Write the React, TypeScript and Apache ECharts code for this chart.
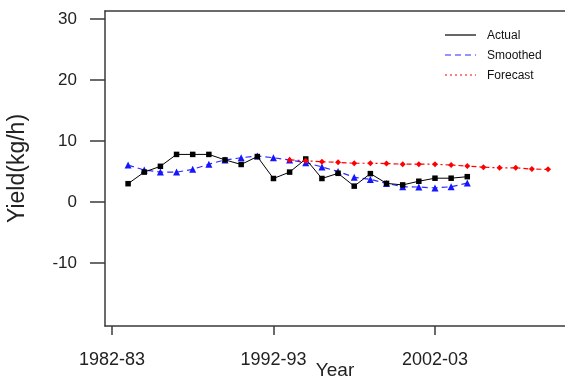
import React, { useEffect, useRef } from "react";
import * as echarts from "echarts";

const actualYears = [1983, 1984, 1985, 1986, 1987, 1988, 1989, 1990, 1991, 1992, 1993, 1994, 1995, 1996, 1997, 1998, 1999, 2000, 2001, 2002, 2003, 2004];
const actualValues = [3.0, 4.9, 5.85, 7.8, 7.8, 7.8, 6.9, 6.15, 7.45, 3.85, 4.9, 7.05, 3.85, 4.7, 2.6, 4.65, 3.05, 2.8, 3.4, 3.9, 3.9, 4.15];

const smoothedYears = [1983, 1984, 1985, 1986, 1987, 1988, 1989, 1990, 1991, 1992, 1993, 1994, 1995, 1996, 1997, 1998, 1999, 2000, 2001, 2002, 2003, 2004];
const smoothedValues = [6.05, 5.25, 4.9, 4.9, 5.35, 6.2, 6.9, 7.25, 7.55, 7.25, 6.9, 6.45, 5.75, 5.0, 4.05, 3.7, 3.05, 2.5, 2.45, 2.3, 2.5, 3.1];

const forecastYears = [1993, 1994, 1995, 1996, 1997, 1998, 1999, 2000, 2001, 2002, 2003, 2004, 2005, 2006, 2007, 2008, 2009];
const forecastValues = [6.9, 6.75, 6.6, 6.5, 6.35, 6.35, 6.3, 6.2, 6.2, 6.2, 6.05, 5.9, 5.7, 5.6, 5.6, 5.4, 5.35];

const xTickYears = [1982, 1992, 2002];
const xTickLabels = ["1982-83", "1992-93", "2002-03"];
const yTickValues = [-10, 0, 10, 20, 30];

const legendNames = ["Actual", "Smoothed", "Forecast"];

const FONT = "'Liberation Sans', Arial, sans-serif";
const FRAME = "#3a3a3a";

export default function App() {
  const ref = useRef<HTMLDivElement>(null);
  useEffect(() => {
    if (!ref.current) return;
    const chart = echarts.init(ref.current, null, { renderer: "svg" });
    const pairs = (xs: number[], ys: number[]) => xs.map((x, i) => [x, ys[i]]);
    const legendStyles = [
      { color: "#000000", dash: null as any },
      { color: "#2a2aff", dash: [6, 4] },
      { color: "#ff0000", dash: [2, 3] },
    ];
    chart.setOption({
      animation: false,
      grid: {
        left: 105,
        top: 11,
        right: 0,
        height: 315,
        show: false,
        containLabel: false,
        outerBoundsMode: "none",
      },
      xAxis: [
        {
          type: "value",
          position: "bottom",
          min: 1981.57,
          max: 2010.05,
          axisLine: { show: true, onZero: false, lineStyle: { color: FRAME, width: 1.5 } },
          splitLine: { show: false },
          axisTick: { show: true, length: 9, customValues: xTickYears, lineStyle: { color: FRAME, width: 1.5 } },
          axisLabel: {
            customValues: xTickYears,
            margin: 24,
            fontFamily: FONT,
            fontSize: 18,
            color: "#222",
            formatter: (v: number) => {
              const i = xTickYears.indexOf(Math.round(v));
              return i >= 0 ? xTickLabels[i] : "";
            },
          },
          name: "Year",
          nameLocation: "middle",
          nameGap: 34,
          nameMoveOverlap: false,
          nameTextStyle: { fontFamily: FONT, fontSize: 19, color: "#222" },
        },
        {
          type: "value",
          position: "top",
          min: 1981.57,
          max: 2010.05,
          axisLine: { show: true, onZero: false, lineStyle: { color: FRAME, width: 1.5 } },
          axisTick: { show: false },
          axisLabel: { show: false },
          splitLine: { show: false },
        },
      ],
      yAxis: {
        type: "value",
        min: -20.33,
        max: 31.31,
        axisLine: { show: true, onZero: false, lineStyle: { color: FRAME, width: 1.5 } },
        splitLine: { show: false },
        axisTick: { show: true, length: 15, customValues: yTickValues, lineStyle: { color: FRAME, width: 1.5 } },
        axisLabel: {
          customValues: yTickValues,
          margin: 28,
          fontFamily: FONT,
          fontSize: 17,
          color: "#222",
        },
        name: "Yield(kg/h)",
        nameLocation: "middle",
        nameGap: 78,
        nameMoveOverlap: false,
        nameTextStyle: { fontFamily: FONT, fontSize: 23, color: "#222" },
      },
      series: [
        {
          name: legendNames[0],
          type: "line",
          xAxisIndex: 0,
          data: pairs(actualYears, actualValues),
          symbol: "rect",
          symbolSize: 5.5,
          lineStyle: { color: "#000", width: 1 },
          itemStyle: { color: "#000" },
          z: 3,
        },
        {
          name: legendNames[1],
          type: "line",
          xAxisIndex: 0,
          data: pairs(smoothedYears, smoothedValues),
          symbol: "triangle",
          symbolSize: 7,
          lineStyle: { color: "#2a2aff", width: 1.2, type: [6, 4] },
          itemStyle: { color: "#1515ff" },
          z: 2,
        },
        {
          name: legendNames[2],
          type: "line",
          xAxisIndex: 0,
          data: pairs(forecastYears, forecastValues),
          symbol: "diamond",
          symbolSize: 6,
          lineStyle: { color: "#ff0000", width: 1.2, type: [5, 3, 2, 3] },
          itemStyle: { color: "#ff0000" },
          z: 4,
        },
      ],
      graphic: legendNames.flatMap((n, i) => [
        {
          type: "line",
          shape: { x1: 445, y1: 35 + i * 20, x2: 476, y2: 35 + i * 20 },
          style: { stroke: legendStyles[i].color, lineWidth: 1.2, lineDash: legendStyles[i].dash },
        },
        {
          type: "text",
          x: 487,
          y: 35 + i * 20,
          style: { text: n, fontFamily: FONT, fontSize: 12, fill: "#111", verticalAlign: "middle" },
        },
      ]),
    });
    return () => chart.dispose();
  }, []);
  return <div ref={ref} style={{ position: "fixed", left: 0, top: 0, width: 565, height: 382 }} />;
}
